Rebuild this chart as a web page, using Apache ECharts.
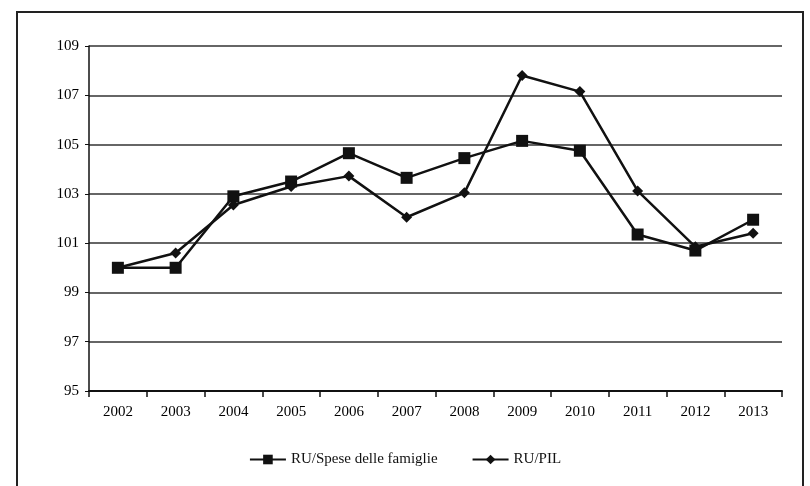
<!DOCTYPE html>
<html><head><meta charset="utf-8">
<script src="https://cdn.jsdelivr.net/npm/echarts@6/dist/echarts.min.js"></script>
<style>html,body{margin:0;padding:0;background:#fff}#c{width:810px;height:486px}</style>
</head><body><div id="c"></div>
<script>
const years = ['2002','2003','2004','2005','2006','2007','2008','2009','2010','2011','2012','2013'];
const speseName = 'RU/Spese delle famiglie';
const pilName = 'RU/PIL';
const speseValues = [100.0, 100.0, 102.9, 103.5, 104.65, 103.65, 104.45, 105.15, 104.75, 101.35, 100.7, 101.95];
const pilValues = [100.0, 100.6, 102.55, 103.3, 103.72, 102.05, 103.04, 107.8, 107.15, 103.12, 100.85, 101.4];
const yMin = 95, yMax = 109, yStep = 2;

const chart = echarts.init(document.getElementById('c'));
const font = 'Liberation Serif, Times New Roman, serif';
chart.setOption({
  animation: false,
  backgroundColor: '#fff',
  graphic: [{type:'rect', shape:{x:17,y:12,width:786,height:480}, style:{fill:'none', stroke:'#222', lineWidth:2}}],
  grid: {left: 89, right: 28, top: 46, bottom: 95},
  legend: {
    bottom: 14, left: 'center', itemWidth: 36, itemHeight: 12, itemGap: 34,
    textStyle: {fontFamily: font, fontSize: 15, color: '#111'},
    data: [speseName, pilName]
  },
  xAxis: {
    type: 'category', data: years, boundaryGap: true,
    axisLine: {lineStyle: {color: '#111', width: 2}},
    axisTick: {show: true, length: 6, lineStyle: {color: '#111', width: 1.5}},
    axisLabel: {fontFamily: font, fontSize: 15, color: '#000', margin: 14}
  },
  yAxis: {
    type: 'value', min: yMin, max: yMax, interval: yStep,
    axisLine: {show: true, lineStyle: {color: '#111', width: 1.5}},
    axisTick: {show: true, length: 4, lineStyle: {color: '#111'}},
    axisLabel: {fontFamily: font, fontSize: 15, color: '#000', margin: 10},
    splitLine: {lineStyle: {color: '#333', width: 1.5}}
  },
  series: [
    {name: speseName, type: 'line', data: speseValues, symbol: 'rect', symbolSize: 12,
     lineStyle: {color: '#111', width: 2.5}, itemStyle: {color: '#111'}},
    {name: pilName, type: 'line', data: pilValues, symbol: 'diamond', symbolSize: 11,
     lineStyle: {color: '#111', width: 2.5}, itemStyle: {color: '#111'}}
  ]
});
</script></body></html>
